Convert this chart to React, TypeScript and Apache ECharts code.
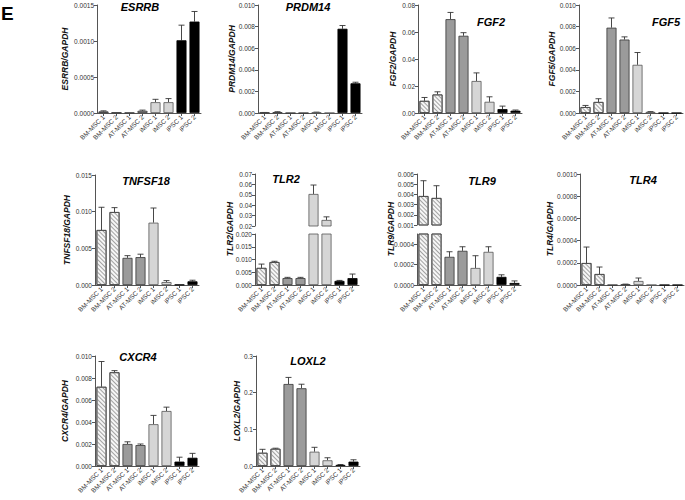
import React, { useEffect, useRef } from 'react';
import * as echarts from 'echarts';

const categories = ['BM-MSC 1', 'BM-MSC 2', 'AT-MSC 1', 'AT-MSC 2', 'iMSC 1', 'iMSC 2', 'iPSC 1', 'iPSC 2'];

const esrrbMean = [0.00002, 0.000004, 0.000004, 0.00003, 0.00015, 0.00015, 0.00101, 0.00127];
const esrrbErr = [0.00001, 0, 0, 0.00001, 0.00004, 0.00005, 0.00021, 0.00014];

const prdm14Mean = [0.00003, 0.00008, 0, 0, 0.00005, 0, 0.0078, 0.00275];
const prdm14Err = [0.00002, 0.00004, 0, 0, 0.00003, 0, 0.0003, 0.0001];

const fgf2Mean = [0.009, 0.0137, 0.0695, 0.0572, 0.0237, 0.0083, 0.0029, 0.0017];
const fgf2Err = [0.0025, 0.002, 0.005, 0.0023, 0.006, 0.0037, 0.0022, 0.0005];

const fgf5Mean = [0.00055, 0.00102, 0.0079, 0.0068, 0.00446, 0.0001, 0, 0];
const fgf5Err = [0.00015, 0.0003, 0.0009, 0.00025, 0.00114, 0.00003, 0, 0];

const tnfsf18Mean = [0.0075, 0.00995, 0.0037, 0.0038, 0.0085, 0.0004, 0.00005, 0.0005];
const tnfsf18Err = [0.0031, 0.0006, 0.0003, 0.0004, 0.002, 0.0002, 0, 0.00015];

const tlr2Mean = [0.0067, 0.009, 0.0027, 0.0027, 0.0508, 0.0258, 0.0016, 0.0027];
const tlr2Err = [0.0015, 0.0003, 0.0003, 0.0003, 0.0086, 0.003, 0.0002, 0.0016];

const tlr9Mean = [0.00384, 0.00365, 0.000276, 0.000335, 0.000167, 0.000325, 0.00008, 0.00002];
const tlr9Err = [0.0015, 0.0012, 0.00005, 0.00004, 0.00012, 0.00005, 0.00002, 0.00002];

const tlr4Mean = [0.000198, 0.000099, 0, 0.000005, 0.000036, 0, 0, 0];
const tlr4Err = [0.000144, 0.000063, 0, 0.000003, 0.000027, 0, 0, 0];

const cxcr4Mean = [0.0072, 0.00852, 0.002, 0.0019, 0.0038, 0.005, 0.0004, 0.00075];
const cxcr4Err = [0.0023, 0.00015, 0.0002, 0.0001, 0.0008, 0.00035, 0.0004, 0.0004];

const loxl2Mean = [0.036, 0.047, 0.2236, 0.212, 0.039, 0.0155, 0.003, 0.012];
const loxl2Err = [0.0095, 0.0015, 0.018, 0.011, 0.012, 0.007, 0.001, 0.005];

const FONT = '"Liberation Sans", Arial, sans-serif';
const AXIS_COLOR = '#555';
const LABEL_COLOR = '#333';

type Seg = { top: number; height: number; min: number; max: number; interval: number; decimals: number; ticks?: number[]; showX: boolean };
type Panel = {
  gene: string; mean: number[]; err: number[]; left: number;
  segs: Seg[]; titleX: number; titleY: number; nameX: number; nameY: number;
};

const panels: Panel[] = [
  { gene: 'ESRRB', mean: esrrbMean, err: esrrbErr, left: 97, titleX: 140, titleY: 7, nameX: 65, nameY: 59,
    segs: [{ top: 5, height: 108, min: 0, max: 0.0015, interval: 0.0005, decimals: 4, showX: true }] },
  { gene: 'PRDM14', mean: prdm14Mean, err: prdm14Err, left: 258, titleX: 308, titleY: 7, nameX: 232, nameY: 59,
    segs: [{ top: 5, height: 108, min: 0, max: 0.01, interval: 0.002, decimals: 3, showX: true }] },
  { gene: 'FGF2', mean: fgf2Mean, err: fgf2Err, left: 418, titleX: 491, titleY: 22, nameX: 393, nameY: 59,
    segs: [{ top: 5, height: 108, min: 0, max: 0.08, interval: 0.02, decimals: 2, showX: true }] },
  { gene: 'FGF5', mean: fgf5Mean, err: fgf5Err, left: 579, titleX: 666, titleY: 22, nameX: 552, nameY: 59,
    segs: [{ top: 5, height: 108, min: 0, max: 0.01, interval: 0.002, decimals: 3, showX: true }] },
  { gene: 'TNFSF18', mean: tnfsf18Mean, err: tnfsf18Err, left: 95, titleX: 146, titleY: 181, nameX: 67, nameY: 230,
    segs: [{ top: 175, height: 110, min: 0, max: 0.015, interval: 0.005, decimals: 3, showX: true }] },
  { gene: 'TLR2', mean: tlr2Mean, err: tlr2Err, left: 255, titleX: 286, titleY: 179, nameX: 230, nameY: 229,
    segs: [
      { top: 174, height: 52, min: 0.02, max: 0.07, interval: 0.01, decimals: 2, showX: false },
      { top: 234, height: 51, min: 0, max: 0.02, interval: 0.005, decimals: 3, showX: true },
    ] },
  { gene: 'TLR9', mean: tlr9Mean, err: tlr9Err, left: 417, titleX: 482, titleY: 181, nameX: 391, nameY: 229,
    segs: [
      { top: 174, height: 51, min: 0.001, max: 0.006, interval: 0.001, decimals: 3, showX: false },
      { top: 234, height: 51, min: 0, max: 0.0005, interval: 0.0001, decimals: 4, ticks: [0, 0.0002, 0.0004], showX: true },
    ] },
  { gene: 'TLR4', mean: tlr4Mean, err: tlr4Err, left: 580, titleX: 643, titleY: 180, nameX: 550, nameY: 229,
    segs: [{ top: 174, height: 111, min: 0, max: 0.001, interval: 0.0002, decimals: 4, showX: true }] },
  { gene: 'CXCR4', mean: cxcr4Mean, err: cxcr4Err, left: 95, titleX: 138, titleY: 357, nameX: 65, nameY: 411,
    segs: [{ top: 356, height: 110, min: 0, max: 0.01, interval: 0.002, decimals: 3, showX: true }] },
  { gene: 'LOXL2', mean: loxl2Mean, err: loxl2Err, left: 256, titleX: 308, titleY: 361, nameX: 237, nameY: 411,
    segs: [{ top: 356, height: 110, min: 0, max: 0.3, interval: 0.1, decimals: 1, showX: true }] },
];

const hatch = {
  symbol: 'rect', symbolSize: 1, color: '#a2a2a2',
  dashArrayX: [1, 0], dashArrayY: [0.8, 1.5], rotation: Math.PI / 4,
};

function styleFor(i: number) {
  if (i < 2) return { color: '#f6f6f6', borderColor: '#444', borderWidth: 0.8, decal: hatch };
  if (i < 4) return { color: '#9b9b9b', borderColor: '#333', borderWidth: 0.8 };
  if (i < 6) return { color: '#d6d6d6', borderColor: '#555', borderWidth: 0.8 };
  return { color: '#000', borderColor: '#000', borderWidth: 0.8 };
}

function buildOption() {
  const grid: any[] = [];
  const xAxis: any[] = [];
  const yAxis: any[] = [];
  const series: any[] = [];
  const graphic: any[] = [];

  graphic.push({ type: 'text', x: 1, y: 4, style: { text: 'E', font: 'bold 19px ' + FONT, fill: '#000' } });

  panels.forEach((p) => {
    p.segs.forEach((s) => {
      const gi = grid.length;
      grid.push({ left: p.left, top: s.top, width: 104, height: s.height, outerBoundsMode: 'none', containLabel: false });
      xAxis.push({
        type: 'category', gridIndex: gi, data: categories, show: s.showX,
        axisLine: { show: true, lineStyle: { color: AXIS_COLOR, width: 1 } },
        axisTick: { show: true, alignWithLabel: true, length: 3, lineStyle: { color: AXIS_COLOR } },
        axisLabel: { rotate: 45, interval: 0, fontSize: 6.5, color: LABEL_COLOR, margin: 3, fontFamily: FONT },
      });
      const y: any = {
        type: 'value', gridIndex: gi, min: s.min, max: s.max, interval: s.interval,
        splitLine: { show: false },
        axisLine: { show: true, lineStyle: { color: AXIS_COLOR, width: 1 } },
        axisTick: { show: true, length: 3, lineStyle: { color: AXIS_COLOR } },
        axisLabel: { fontSize: 6.5, color: LABEL_COLOR, margin: 3, fontFamily: FONT,
          formatter: (v: number) => Number(v).toFixed(s.decimals) },
      };
      if (s.ticks) {
        y.axisTick.customValues = s.ticks;
        y.axisLabel.customValues = s.ticks;
      }
      yAxis.push(y);
      series.push({
        type: 'bar', xAxisIndex: gi, yAxisIndex: gi, barWidth: 10, clip: true, silent: true,
        data: p.mean.map((v, i) => ({ value: v, itemStyle: styleFor(i) })),
      });
      series.push({
        type: 'custom', xAxisIndex: gi, yAxisIndex: gi, clip: true, silent: true,
        data: p.mean.map((v, i) => [i, v, p.err[i]]),
        renderItem: (params: any, api: any) => {
          const idx = api.value(0);
          const v = api.value(1);
          const e = api.value(2);
          if (!e) return null;
          const p0 = api.coord([idx, v]);
          const p1 = api.coord([idx, v + e]);
          const st = { stroke: '#333', lineWidth: 0.9 };
          return {
            type: 'group',
            children: [
              { type: 'line', shape: { x1: p0[0], y1: p0[1], x2: p1[0], y2: p1[1] }, style: st },
              { type: 'line', shape: { x1: p1[0] - 3, y1: p1[1], x2: p1[0] + 3, y2: p1[1] }, style: st },
            ],
          };
        },
      });
    });

    graphic.push({
      type: 'text', x: p.titleX, y: p.titleY,
      style: { text: p.gene, font: 'italic bold 11px ' + FONT, fill: '#000', align: 'center', verticalAlign: 'middle' },
    });
    graphic.push({
      type: 'text', x: p.nameX, y: p.nameY, rotation: Math.PI / 2,
      style: { text: p.gene + '/GAPDH', font: 'italic bold 8.5px ' + FONT, fill: '#111', align: 'center', verticalAlign: 'middle' },
    });
  });

  return { animation: false, backgroundColor: '#fff', grid, xAxis, yAxis, series, graphic };
}

export default function App() {
  const ref = useRef<HTMLDivElement>(null);
  useEffect(() => {
    if (!ref.current) return;
    const chart = echarts.init(ref.current, null, { renderer: 'svg' });
    chart.setOption(buildOption() as any);
    return () => chart.dispose();
  }, []);
  return <div ref={ref} style={{ position: 'fixed', left: 0, top: 0, width: 685, height: 500 }} />;
}
